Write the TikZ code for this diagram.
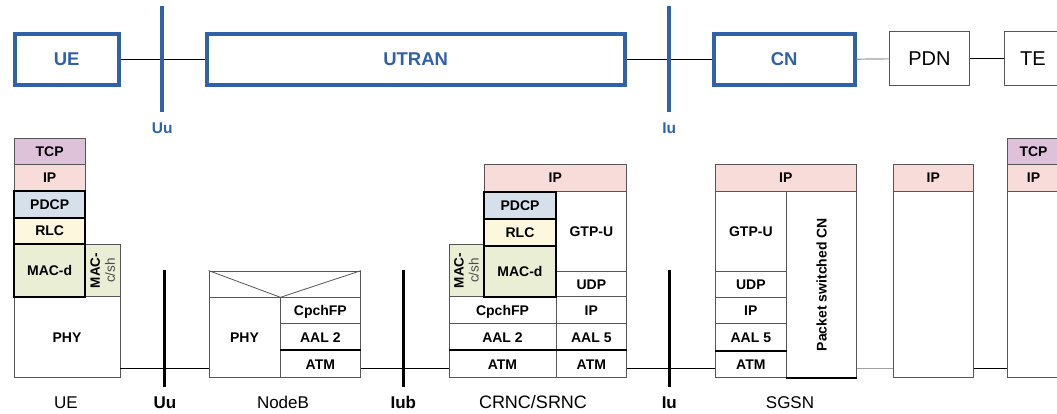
\documentclass[tikz,border=0pt]{standalone}
\usepackage{fontspec}
\setmainfont{Liberation Sans}
\definecolor{ublue}{HTML}{2F62A8}
\definecolor{tcpc}{HTML}{DEC2DA}
\definecolor{ipc}{HTML}{F8DCD9}
\definecolor{pdcpc}{HTML}{D6E0EA}
\definecolor{rlcc}{HTML}{FCF7DD}
\definecolor{macc}{HTML}{EAEED4}
\definecolor{edge}{HTML}{555555}
\definecolor{glink}{HTML}{A0A0A0}
\begin{document}
\begin{tikzpicture}[x=1pt,y=-1pt,
  box/.style={draw=edge, line width=0.8pt, inner sep=0pt},
  layer/.style={box, font=\bfseries\fontsize{14}{16}\selectfont, text height=10pt, text depth=0pt},
  thkbox/.style={layer, draw=black, line width=2pt},
  vlayer/.style={box, rotate=90, align=center, font=\fontsize{13.5}{15}\selectfont},
  thk/.style={draw=black, line width=2pt},
  netbox/.style={draw=ublue, line width=4pt, inner sep=0pt, text=ublue, font=\bfseries\fontsize{18.5}{20}\selectfont},
  plainbox/.style={draw=edge, line width=1pt, inner sep=0pt, font=\fontsize{20}{22}\selectfont},
  conn/.style={draw=black, line width=1pt},
  gconn/.style={draw=glink, line width=1.2pt},
  bbar/.style={draw=ublue, line width=4pt},
  kbar/.style={draw=black, line width=3pt},
  blab/.style={anchor=base, text=ublue, font=\bfseries\fontsize{15.5}{17}\selectfont},
  klab/.style={anchor=base, font=\fontsize{17}{19}\selectfont},
  kblab/.style={anchor=base, font=\bfseries\fontsize{17}{19}\selectfont}
]
\useasboundingbox (0,0) rectangle (1057,414);

% ---------- top row ----------
\node[netbox, minimum width=104pt, minimum height=51pt] (ueN) at (66.7,59.2) {UE};
\node[netbox, minimum width=418pt, minimum height=51pt] (utranN) at (415.7,59.2) {UTRAN};
\node[netbox, minimum width=141pt, minimum height=51pt] (cnN) at (784.2,59.2) {CN};
\node[plainbox, minimum width=79.6pt, minimum height=53.7pt] (pdnN) at (929.5,58.85) {PDN};
\node[plainbox, minimum width=58pt, minimum height=53.7pt] (teN) at (1033,58.85) {TE};
\draw[conn] (ueN.east) -- (utranN.west);
\draw[conn] (utranN.east) -- (cnN.west);
\draw[gconn] (cnN.east) -- (pdnN.west);
\draw[conn] (pdnN.east) -- (teN.west);
\coordinate (uuT1) at (162.3,5.7);
\coordinate (uuT2) at (162.3,112);
\coordinate (iuT1) at (669.3,5.7);
\coordinate (iuT2) at (669.3,112);
\draw[bbar] (uuT1) -- (uuT2);
\draw[bbar] (iuT1) -- (iuT2);
\node[blab] (uuTL) at (162.3,134) {Uu};
\node[blab] (iuTL) at (669.3,134) {Iu};

% ---------- bottom line ----------
\coordinate (bl) at (0,368.5);

% ---------- UE stack ----------
\node[layer, fill=tcpc, minimum width=71.3pt, minimum height=25.7pt] (ueTCP) at (49.65,151.15) {TCP};
\node[layer, fill=ipc, minimum width=71.3pt, minimum height=26.7pt] (ueIP) at (49.65,177.35) {IP};
\node[layer, fill=white, minimum width=106pt, minimum height=80.6pt] (uePHY) at (67,337) {PHY};
\node[vlayer, fill=macc, minimum width=52.4pt, minimum height=34.7pt] (ueMACc) at (102.65,270.5) {\textbf{MAC-}\\{\color{black!70}c/sh}};
\node[thkbox, fill=pdcpc, minimum width=71.3pt, minimum height=27pt] (uePDCP) at (49.65,204.2) {PDCP};
\node[thkbox, fill=rlcc, minimum width=71.3pt, minimum height=26.6pt] (ueRLC) at (49.65,231) {RLC};
\node[thkbox, fill=macc, minimum width=71.3pt, minimum height=52.4pt] (ueMACd) at (49.65,270.5) {MAC-d};

% ---------- NodeB ----------
\node[box, minimum width=151.7pt, minimum height=26.7pt] (nbTop) at (284.85,284.35) {};
\node[layer, minimum width=71pt, minimum height=79.6pt] (nbPHY) at (244.5,337.5) {PHY};
\node[layer, minimum width=80.7pt, minimum height=25.6pt] (nbFP) at (320.35,310.5) {CpchFP};
\node[layer, minimum width=80.7pt, minimum height=27.4pt] (nbAAL) at (320.35,337) {AAL 2};
\node[layer, minimum width=80.7pt, minimum height=26.6pt] (nbATM) at (320.35,364) {ATM};
\draw[thk] (nbATM.north west) -- (nbATM.north east);
\draw[draw=edge, line width=0.8pt] (nbTop.north west) -- (nbPHY.north east) -- (nbTop.north east);

% ---------- CRNC/SRNC ----------
\node[layer, fill=ipc, minimum width=142.7pt, minimum height=27.7pt] (rIP) at (555.35,177.85) {IP};
\node[layer, minimum width=70.7pt, minimum height=80pt] (rGTP) at (591.35,231.7) {GTP-U};
\node[layer, minimum width=70.7pt, minimum height=25pt] (rUDP) at (591.35,284.2) {UDP};
\node[vlayer, fill=macc, minimum width=52.4pt, minimum height=35pt] (rMACc) at (466.5,270.5) {\textbf{MAC-}\\{\color{black!70}c/sh}};
\node[layer, minimum width=107pt, minimum height=26.6pt] (rFP) at (502.5,310) {CpchFP};
\node[layer, minimum width=70.7pt, minimum height=26.6pt] (rIP2) at (591.35,310) {IP};
\node[layer, minimum width=107pt, minimum height=27.4pt] (rAAL2) at (502.5,337) {AAL 2};
\node[layer, minimum width=70.7pt, minimum height=27.4pt] (rAAL5) at (591.35,337) {AAL 5};
\node[layer, minimum width=107pt, minimum height=27pt] (rATM1) at (502.5,364.2) {ATM};
\node[layer, minimum width=70.7pt, minimum height=27pt] (rATM2) at (591.35,364.2) {ATM};
\draw[thk] (rATM1.north west) -- (rATM2.north east);
\node[thkbox, fill=pdcpc, minimum width=72pt, minimum height=27.3pt] (rPDCP) at (520,205.35) {PDCP};
\node[thkbox, fill=rlcc, minimum width=72pt, minimum height=26.7pt] (rRLC) at (520,232.35) {RLC};
\node[thkbox, fill=macc, minimum width=72pt, minimum height=51pt] (rMACd) at (520,271.2) {MAC-d};

% ---------- SGSN ----------
\node[layer, fill=ipc, minimum width=141.7pt, minimum height=27.7pt] (sIP) at (785.85,177.85) {IP};
\node[layer, minimum width=71.7pt, minimum height=80pt] (sGTP) at (750.85,231.7) {GTP-U};
\node[layer, minimum width=71.7pt, minimum height=26pt] (sUDP) at (750.85,284.7) {UDP};
\node[layer, minimum width=71.7pt, minimum height=25.6pt] (sIP2) at (750.85,310.5) {IP};
\node[layer, minimum width=71.7pt, minimum height=27.7pt] (sAAL5) at (750.85,337.15) {AAL 5};
\node[layer, minimum width=71.7pt, minimum height=26.7pt] (sATM) at (750.85,364.35) {ATM};
\node[vlayer, font=\bfseries\fontsize{14}{16}\selectfont, minimum width=186pt, minimum height=70pt] (sPS) at (821.7,284.7) {Packet switched CN};
\draw[thk] (sATM.north west) -- (sATM.north east);
\draw[thk] (sPS.north west) -- (sPS.south west);

% ---------- PDN ----------
\node[layer, fill=ipc, minimum width=80pt, minimum height=27.7pt] (pIP) at (933.3,177.85) {IP};
\node[box, minimum width=80pt, minimum height=186pt] (pBody) at (933.3,284.7) {};

% ---------- TE ----------
\node[layer, fill=tcpc, minimum width=53pt, minimum height=25.7pt] (tTCP) at (1033.5,151.15) {TCP};
\node[layer, fill=ipc, minimum width=53pt, minimum height=27.7pt] (tIP) at (1033.5,177.85) {IP};
\node[box, minimum width=53pt, minimum height=185.6pt] (tBody) at (1033.5,284.5) {};

% ---------- bottom connectors ----------
\draw[conn] (uePHY.east |- bl) -- (nbPHY.west |- bl);
\draw[conn] (nbATM.east |- bl) -- (rATM1.west |- bl);
\draw[conn] (rATM2.east |- bl) -- (sATM.west |- bl);
\draw[gconn] (sPS.south east |- bl) -- (pBody.west |- bl);
\draw[conn] (pBody.east |- bl) -- (tBody.west |- bl);

% ---------- bottom bars ----------
\coordinate (uuB1) at (164.7,270);
\coordinate (uuB2) at (164.7,386.5);
\coordinate (iubB1) at (403.3,270);
\coordinate (iubB2) at (403.3,386.5);
\coordinate (iuB1) at (669.3,270);
\coordinate (iuB2) at (669.3,386.5);
\draw[kbar] (uuB1) -- (uuB2);
\draw[kbar] (iubB1) -- (iubB2);
\draw[kbar] (iuB1) -- (iuB2);

% ---------- bottom labels ----------
\node[klab] (ueL) at (66,408.3) {UE};
\node[kblab] (uuL) at (165,408.3) {Uu};
\node[klab] (nbL) at (283,408.3) {NodeB};
\node[kblab] (iubL) at (403.3,408.3) {Iub};
\node[klab, font=\fontsize{18}{20}\selectfont] (rncL) at (533,408.3) {CRNC/SRNC};
\node[kblab] (iuL) at (669.3,408.3) {Iu};
\node[klab] (sgsnL) at (790,408.3) {SGSN};
\end{tikzpicture}
\end{document}
